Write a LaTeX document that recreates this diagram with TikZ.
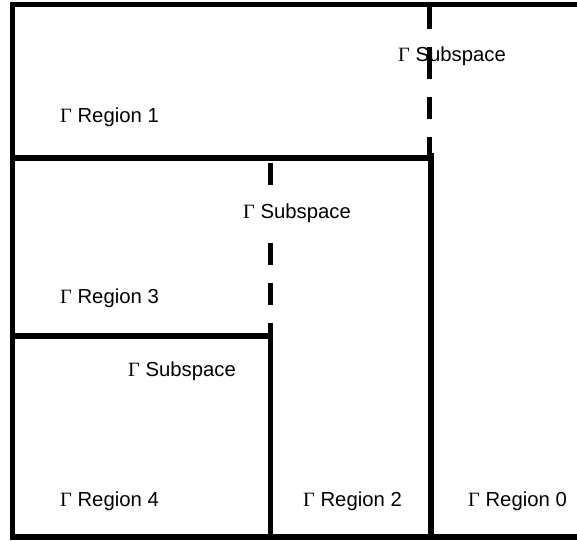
\documentclass[tikz,border=0pt]{standalone}
\usepackage{fontspec}
\setmainfont{Liberation Sans}
\newfontfamily\gam{Liberation Serif}
\begin{document}
\begin{tikzpicture}[x=1pt,y=-1pt,
  wall/.style={line width=5.5pt},
  cut/.style={line width=5.5pt,dash pattern=on 22pt off 18pt},
  lbl/.style={anchor=base west,inner sep=0pt,font=\fontsize{20.3}{22}\selectfont}]
\clip (0,0) rectangle (577,540);
% outer frame (open to the right)
\draw[wall] (590,4.5) -- (12.5,4.5) -- (12.5,537) -- (590,537);
% solid partitions
\draw[wall] (12.5,158) -- (431,158);
\draw[wall] (431,153) -- (431,537);
\draw[wall] (12.5,336) -- (270.5,336);
\draw[wall] (270.5,336) -- (270.5,537);
% labels
\node[lbl] (s0) at (398,61.5) {{\gam Γ} Subspace};
\node[lbl] (r1) at (60,122.5) {{\gam Γ} Region 1};
\node[lbl] (r3) at (60,303.5) {{\gam Γ} Region 3};
\node[lbl] (s2) at (128,376.5) {{\gam Γ} Subspace};
\node[lbl] (r4) at (60,506.5) {{\gam Γ} Region 4};
\node[lbl] (r2) at (303,506.5) {{\gam Γ} Region 2};
\node[lbl] (r0) at (468,506.5) {{\gam Γ} Region 0};
% dashed subspace boundaries
\draw[cut] (429.5,7) -- (429.5,70);
\draw[cut] (429.5,57) -- (429.5,158);
\draw[cut] (270.5,163.3) -- (270.5,336);
\node[lbl,fill=white,inner xsep=1pt,inner ysep=4pt] (s1) at (242,218.5) {{\gam Γ} Subspace};
\end{tikzpicture}
\end{document}
